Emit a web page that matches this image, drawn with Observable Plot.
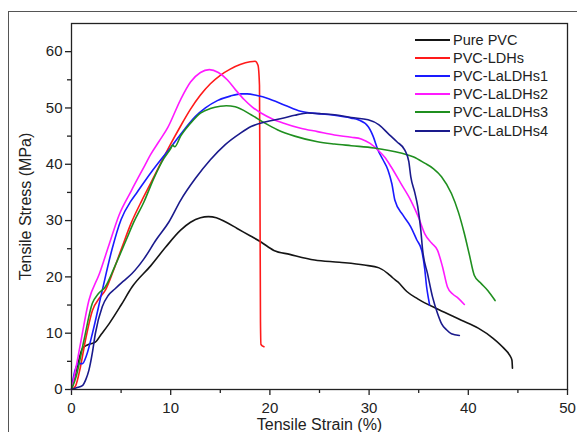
<!DOCTYPE html>
<html><head><meta charset="utf-8">
<script src="https://cdn.jsdelivr.net/npm/d3@7"></script>
<script src="https://cdn.jsdelivr.net/npm/@observablehq/plot@0.6"></script>
<style>
body{margin:0;background:#fff;}
#wrap{position:relative;width:577px;height:432px;overflow:hidden;font-family:"Liberation Sans",Arial,sans-serif;background:#fff;}
#border{position:absolute;left:8px;top:11px;width:620px;height:620px;border:1px solid #555;}
#chart{position:absolute;left:0;top:0;}
#legend{position:absolute;left:415px;top:31px;}
.row{display:flex;align-items:center;height:18.1px;font-size:14.5px;color:#222;white-space:nowrap;}
.sw{width:35px;height:2px;margin-right:3px;}
</style></head><body>
<div id="wrap"><div id="border"></div><div id="chart"></div><div id="legend"></div></div>
<script>
// Series names and colors
const seriesNames = ["Pure PVC", "PVC-LDHs", "PVC-LaLDHs1", "PVC-LaLDHs2", "PVC-LaLDHs3", "PVC-LaLDHs4"];
const seriesColors = ["#151515", "#ff1a1a", "#1a1aff", "#ff1aff", "#1f8f1f", "#1a1a8c"];

// Tick values
const xTicks = [0, 10, 20, 30, 40, 50];
const xMinor = [5, 15, 25, 35, 45];
const yTicks = [0, 10, 20, 30, 40, 50, 60];
const yMinor = [5, 15, 25, 35, 45, 55];

// Pure PVC
const pureStrain = [0, 0.57, 1.1, 1.6, 2.4, 3.0, 3.8, 5.0, 6.1, 8.0, 9.5, 11.0, 12.0, 13.0, 13.8, 14.6, 15.5, 16.7, 18.0, 19.1, 20.4, 22.0, 24.5, 27.0, 29.5, 31.0, 31.9, 32.4, 32.9, 33.8, 34.9, 37.0, 39.3, 41.0, 42.5, 43.6, 44.2, 44.4, 44.45];
const pureStress = [0, 4.0, 7.3, 7.9, 8.4, 9.8, 11.7, 15.0, 18.2, 22.0, 25.3, 28.3, 29.7, 30.5, 30.7, 30.5, 29.8, 28.6, 27.3, 26.2, 24.7, 24.0, 23.0, 22.6, 22.1, 21.6, 20.6, 19.8, 19.1, 17.4, 16.1, 14.2, 12.3, 10.9, 9.1, 7.3, 6.0, 5.2, 3.8];

// PVC-LDHs
const ldhStrain = [0, 0.4, 0.9, 1.4, 2.1, 2.8, 3.4, 4.2, 5.1, 6.0, 7.1, 8.0, 9.0, 10.0, 11.0, 12.0, 13.0, 14.0, 15.0, 16.0, 17.0, 18.0, 18.5, 18.8, 18.95, 19.0, 19.05, 19.1, 19.4];
const ldhStress = [0, 0.6, 4.0, 8.7, 14.0, 16.2, 17.6, 21.0, 25.3, 29.5, 33.6, 36.7, 40.2, 43.6, 46.8, 49.8, 52.3, 54.3, 55.8, 56.9, 57.7, 58.2, 58.3, 57.6, 54.0, 35.0, 12.0, 8.0, 7.6];

// PVC-LaLDHs1
const la1Strain = [0, 0.2, 0.7, 1.1, 1.5, 2.1, 3.1, 4.1, 5.0, 6.0, 6.6, 8.0, 9.0, 10.0, 11.3, 12.5, 13.5, 14.7, 16.0, 17.1, 17.7, 18.7, 19.8, 21.5, 23.1, 24.8, 26.5, 28.2, 28.9, 29.9, 30.4, 30.9, 31.4, 31.9, 32.3, 32.6, 33.4, 34.2, 34.8, 35.3, 35.6, 35.8, 36.0, 36.1];
const la1Stress = [0, 2.2, 4.6, 4.6, 6.0, 9.9, 17.6, 25.0, 30.2, 33.5, 35.0, 38.5, 40.8, 43.0, 46.0, 48.5, 50.0, 51.3, 52.1, 52.5, 52.5, 52.2, 51.7, 50.5, 49.4, 49.0, 48.7, 48.2, 47.9, 46.7, 45.0, 42.5, 40.8, 39.0, 36.5, 33.6, 31.0, 28.9, 26.6, 24.7, 21.5, 18.2, 16.0, 15.0];

// PVC-LaLDHs2
const la2Strain = [0, 0.3, 0.9, 1.75, 2.8, 3.8, 4.8, 6.0, 7.3, 8.0, 8.8, 9.7, 11.0, 12.0, 13.0, 13.9, 14.8, 15.7, 16.5, 17.4, 18.2, 19.1, 20.2, 21.4, 23.1, 24.8, 26.5, 28.2, 29.2, 30.1, 30.9, 31.6, 32.2, 33.2, 34.2, 35.0, 35.6, 36.3, 36.9, 37.4, 37.9, 38.4, 39.0, 39.6];
const la2Stress = [0, 2.5, 8.1, 15.8, 20.5, 25.8, 31.0, 35.2, 39.5, 41.8, 44.0, 46.5, 51.5, 54.6, 56.3, 56.8, 56.3, 55.0, 53.3, 51.5, 50.2, 49.1, 48.1, 47.3, 46.4, 45.8, 45.2, 44.8, 44.5, 43.7, 42.5, 41.2, 39.6, 36.6, 33.6, 30.5, 27.7, 26.0, 24.7, 21.8, 18.2, 17.0, 16.2, 15.1];

// PVC-LaLDHs3
const la3Strain = [0, 0.5, 1.25, 2.1, 2.7, 3.4, 4.4, 5.5, 6.3, 7.3, 8.3, 9.3, 10.0, 10.2, 10.4, 11.0, 12.0, 13.0, 14.0, 15.0, 15.6, 16.5, 18.1, 19.5, 20.8, 22.5, 24.8, 26.5, 28.2, 30.5, 33.2, 34.5, 35.6, 36.5, 37.3, 38.3, 39.0, 39.6, 40.1, 40.6, 41.2, 42.0, 42.7];
const la3Stress = [0, 2.5, 8.7, 15.3, 17.0, 18.2, 22.0, 26.5, 29.8, 33.3, 37.5, 41.0, 42.8, 43.4, 43.1, 45.0, 47.3, 49.1, 49.9, 50.3, 50.4, 50.2, 48.8, 47.3, 46.1, 45.0, 44.0, 43.6, 43.3, 42.9, 42.0, 41.3, 40.2, 39.2, 37.8, 34.8, 31.5, 27.7, 24.0, 20.3, 19.0, 17.5, 15.8];

// PVC-LaLDHs4
const la4Strain = [0, 0.5, 1.1, 1.45, 1.75, 2.1, 2.4, 3.1, 3.7, 4.4, 5.2, 6.1, 7.3, 8.5, 9.8, 11.0, 12.5, 14.0, 15.5, 17.0, 18.1, 19.5, 21.4, 22.5, 23.8, 25.0, 26.5, 28.2, 29.9, 31.0, 31.9, 32.8, 33.6, 34.0, 34.2, 34.6, 34.9, 35.2, 35.4, 35.9, 36.4, 36.9, 37.3, 37.8, 38.3, 39.1];
const la4Stress = [0, 0.3, 0.7, 1.8, 3.4, 6.5, 9.9, 14.7, 16.7, 17.9, 19.2, 20.6, 23.2, 26.5, 29.7, 33.6, 37.5, 40.8, 43.5, 45.5, 46.7, 47.5, 48.2, 48.7, 49.1, 49.0, 48.8, 48.3, 47.9, 47.0, 45.5, 44.0, 42.5, 40.5, 37.8, 35.0, 32.5, 28.5, 24.7, 20.5, 16.4, 13.5, 11.7, 10.6, 9.9, 9.6];

const strainArrays = [pureStrain, ldhStrain, la1Strain, la2Strain, la3Strain, la4Strain];
const stressArrays = [pureStress, ldhStress, la1Stress, la2Stress, la3Stress, la4Stress];

const rows = seriesNames.flatMap((name, k) =>
  strainArrays[k].map((x, i) => ({series: name, strain: x, stress: stressArrays[k][i]})));

const font = "'Liberation Sans', Arial, sans-serif";
const chart = Plot.plot({
  width: 577, height: 432,
  marginLeft: 71, marginRight: 10, marginTop: 23, marginBottom: 43,
  style: {fontFamily: font, fontSize: "15px", background: "transparent", color: "#222"},
  x: {domain: [0, 50]},
  y: {domain: [0, 65]},
  color: {domain: seriesNames, range: seriesColors},
  marks: [
    Plot.axisX({ticks: xTicks, tickSize: 6, tickPadding: 7, label: null, tickFormat: d => String(d), stroke: "#222", strokeWidth: 1.3}),
    Plot.axisX({ticks: xMinor, tickSize: 4, label: null, tickFormat: () => "", stroke: "#222", strokeWidth: 1.3}),
    Plot.axisY({ticks: yTicks, tickSize: 6, tickPadding: 3, label: null, tickFormat: d => String(d), stroke: "#222", strokeWidth: 1.3}),
    Plot.axisY({ticks: yMinor, tickSize: 4, label: null, tickFormat: () => "", stroke: "#222", strokeWidth: 1.3}),
    Plot.line(rows, {x: "strain", y: "stress", z: "series", stroke: "series", strokeWidth: 1.6, curve: "monotone-x"}),
    Plot.frame({stroke: "#222", strokeWidth: 1.3}),
    Plot.text(["Tensile Strain (%)"], {frameAnchor: "bottom", dy: 40, fontSize: 16, fill: "#222"}),
    Plot.text(["Tensile Stress (MPa)"], {frameAnchor: "left", textAnchor: "middle", dx: -46, rotate: -90, fontSize: 16, fill: "#222"})
  ]
});
document.getElementById("chart").appendChild(chart);

const legend = document.getElementById("legend");
seriesNames.forEach((name, k) => {
  const row = document.createElement("div");
  row.className = "row";
  const sw = document.createElement("span");
  sw.className = "sw";
  sw.style.background = seriesColors[k];
  const label = document.createElement("span");
  label.textContent = name;
  row.appendChild(sw);
  row.appendChild(label);
  legend.appendChild(row);
});
</script>
</body></html>
